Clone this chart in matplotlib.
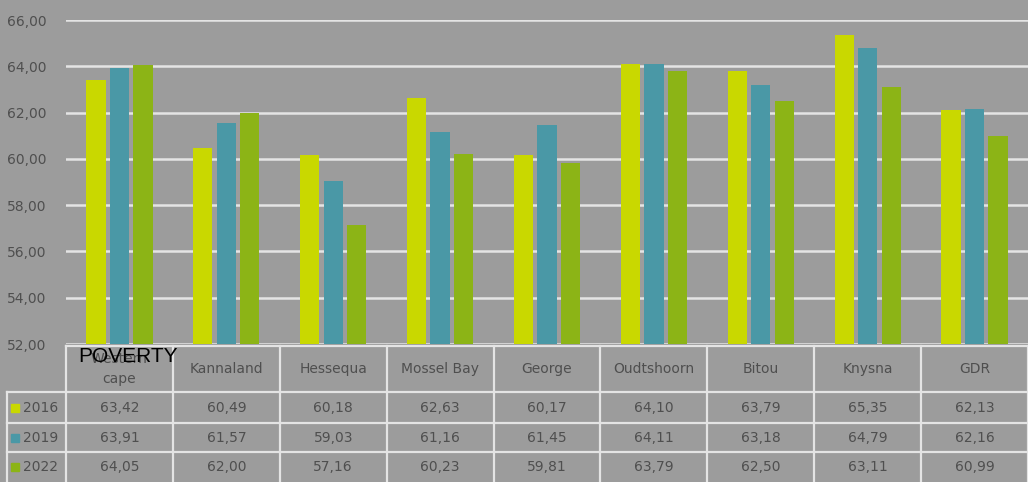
## Poverty rate by municipality (Garden Route district) with data table underneath

import matplotlib
matplotlib.use('Agg')
import matplotlib.pyplot as plt
import numpy as np

categories = ['Western\ncape', 'Kannaland', 'Hessequa', 'Mossel Bay', 'George',
              'Oudtshoorn', 'Bitou', 'Knysna', 'GDR']
years = ['2016', '2019', '2022']
values_2016 = [63.42, 60.49, 60.18, 62.63, 60.17, 64.10, 63.79, 65.35, 62.13]
values_2019 = [63.91, 61.57, 59.03, 61.16, 61.45, 64.11, 63.18, 64.79, 62.16]
values_2022 = [64.05, 62.00, 57.16, 60.23, 59.81, 63.79, 62.50, 63.11, 60.99]
series = [values_2016, values_2019, values_2022]
colors = ['#c9d800', '#4a98a6', '#8cb416']

bg = '#9c9c9c'
txt = '#4f4f4f'
grid = '#e4e4e4'

W, H = 1028, 482
fig = plt.figure(figsize=(W / 100, H / 100), dpi=100, facecolor=bg)

# main bar axes (pixel layout converted to figure fractions)
ax = fig.add_axes([66 / W, (H - 344) / H, 962 / W, 324 / H])
ax.set_facecolor(bg)
x = np.arange(len(categories))
offsets = [-0.22, 0, 0.22]
for vals, off, c in zip(series, offsets, colors):
    ax.bar(x + off, vals, width=0.18, color=c, zorder=3)

ax.set_xlim(-0.5, len(categories) - 0.5)
ax.set_ylim(52, 66)
ax.set_yticks(np.arange(52, 67, 2))
ax.set_yticklabels([f'{v:.2f}'.replace('.', ',') for v in np.arange(52, 67, 2)])
ax.tick_params(axis='y', length=0, pad=14, labelsize=10, labelcolor=txt)
ax.set_xticks([])
ax.yaxis.grid(True, color=grid, linewidth=1.8, zorder=0)
for s in ax.spines.values():
    s.set_visible(False)

# data table drawn in a second axes sharing the category positions
tax = fig.add_axes([66 / W, 0, 962 / W, (H - 344) / H])
tax.set_xlim(-0.5, len(categories) - 0.5)
tax.set_ylim(H, 344)
tax.axis('off')

left = -0.5 - 59 / 107
line_kw = dict(color=grid, linewidth=1.6, clip_on=False)
tax.plot([-0.5, 8.5], [346, 346], **line_kw)
for yy in [392, 423, 452]:
    tax.plot([left, 8.5], [yy, yy], **line_kw)
for k in range(len(categories) + 1):
    tax.plot([k - 0.5, k - 0.5], [346, H], **line_kw)
tax.plot([left, left], [392, H], **line_kw)

for i, name in enumerate(categories):
    tax.text(i, 369, name, ha='center', va='center', fontsize=10,
             color=txt, linespacing=1.5)
row_mid = [407.5, 437.5, 467]
for r, (vals, yr, c) in enumerate(zip(series, years, colors)):
    for i, v in enumerate(vals):
        tax.text(i, row_mid[r], f'{v:.2f}'.replace('.', ','), ha='center',
                 va='center', fontsize=10, color=txt)
    tax.plot(left + 8 / 107, row_mid[r], 's', color=c, markersize=6,
             clip_on=False)
    tax.text(left + 16 / 107, row_mid[r], yr, ha='left', va='center',
             fontsize=10, color=txt)

fig.text(78 / W, (H - 362) / H, 'POVERTY', fontsize=15, color='black',
         family='Liberation Sans', ha='left', va='baseline')

fig.savefig('out.png', dpi=100, facecolor=bg)
